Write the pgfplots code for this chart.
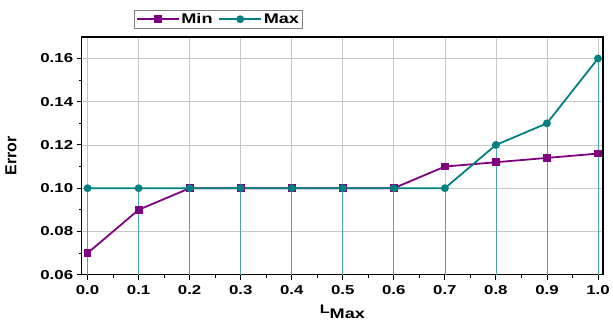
\documentclass[border=0pt]{standalone}
\usepackage{fontspec}
\setmainfont{Liberation Sans}[FakeStretch=1.3]
\newfontfamily\plainsans{Liberation Sans}
\usepackage{pgfplots}
\pgfplotsset{compat=1.18}
\definecolor{cmin}{RGB}{128,0,128}
\definecolor{cmax}{RGB}{0,128,128}
\begin{document}
\begin{tikzpicture}
\begin{axis}[
  scale only axis,
  width=524pt, height=239pt,
  xmin=-0.0117, xmax=1.01,
  ymin=0.06, ymax=0.17,
  xtick={0,0.1,...,1.0},
  xticklabels={0.0,0.1,0.2,0.3,0.4,0.5,0.6,0.7,0.8,0.9,1.0},
  ytick={0.06,0.08,0.10,0.12,0.14,0.16},
  yticklabels={0.06,0.08,0.10,0.12,0.14,0.16},
  minor x tick num=1,
  minor y tick num=1,
  tick align=outside,
  xtick pos=bottom, ytick pos=left,
  major tick length=5pt, minor tick length=3pt,
  tick style={black, line width=0.9pt},
  axis line style={black, line width=1.4pt},
  grid=major,
  major grid style={gray!45, line width=0.7pt},
  /pgf/number format/assume math mode=true,
  tick label style={font=\fontsize{13}{15}\selectfont\bfseries},
  xticklabel style={yshift=-2pt},
  ylabel={\plainsans\bfseries\fontsize{16}{18}\selectfont Error},
  ylabel style={at={(axis description cs:-0.118,0.5)}},
  xlabel={\bfseries\fontsize{12.5}{14}\selectfont L\raisebox{-5pt}{\fontsize{14}{16}\selectfont Max}},
  xlabel style={yshift=-4pt},
  legend style={at={(0.101,1.0335)}, anchor=south west, legend columns=-1,
    draw=gray, line width=0.7pt, font=\fontsize{14}{16}\selectfont\bfseries,
    inner sep=1.5pt, /tikz/every even column/.append style={column sep=4pt}},
  legend image code/.code={\draw[#1, line width=1.5pt] (0pt,0pt) -- (42pt,0pt); \path[#1] plot[mark repeat=1] coordinates {(21pt,0pt)};},
  clip=true,
]
\addplot[ycomb, cmax!70, line width=0.7pt, no marks, forget plot] coordinates {
(0.0,0.10)(0.1,0.10)(0.2,0.10)(0.3,0.10)(0.4,0.10)(0.5,0.10)(0.6,0.10)(0.7,0.10)(0.8,0.12)(0.9,0.13)(1.0,0.16)};
\addplot[cmin, line width=1.8pt, mark=square*, mark size=3pt] coordinates {
(0.0,0.070)(0.1,0.090)(0.2,0.100)(0.3,0.100)(0.4,0.100)(0.5,0.100)(0.6,0.100)(0.7,0.110)(0.8,0.112)(0.9,0.114)(1.0,0.116)};
\addlegendentry{Min}
\addplot[cmax, line width=1.8pt, mark=*, mark size=3pt] coordinates {
(0.0,0.10)(0.1,0.10)(0.2,0.10)(0.3,0.10)(0.4,0.10)(0.5,0.10)(0.6,0.10)(0.7,0.10)(0.8,0.12)(0.9,0.13)(1.0,0.16)};
\addlegendentry{Max}
\end{axis}
\path (current axis.south west) ++(-82pt,-50pt);
\path (current axis.north east) ++(7pt,37pt);
\end{tikzpicture}
\end{document}
